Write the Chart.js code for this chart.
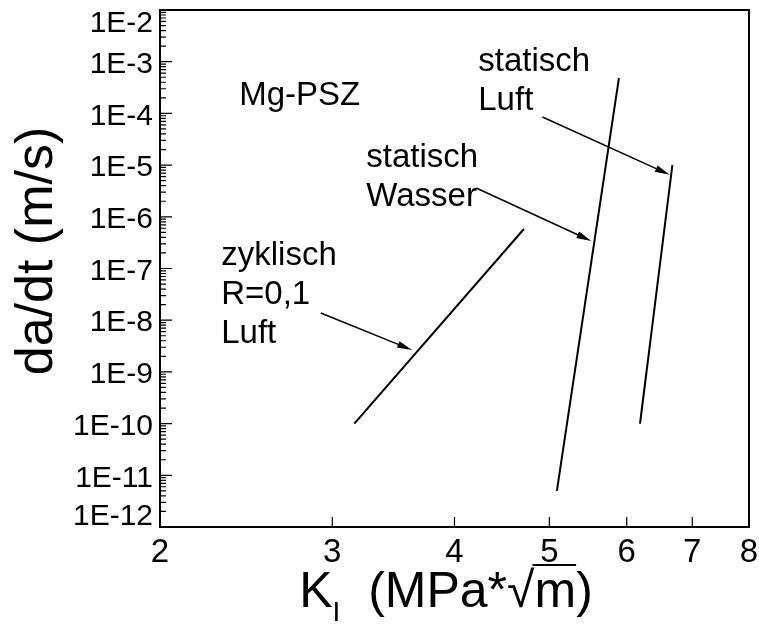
<!DOCTYPE html>
<html>
<head>
<meta charset="utf-8">
<script src="https://cdn.jsdelivr.net/npm/chart.js@4.4.1/dist/chart.umd.min.js"></script>
<style>
  html, body { margin: 0; padding: 0; background: #fff; }
  #wrap { width: 759px; height: 625px; }
</style>
</head>
<body>
<div id="wrap"><canvas id="chart" width="759" height="625"></canvas></div>
<script>
// axis ticks
const xTicks = [2, 3, 4, 5, 6, 7, 8];
const yDecades = [-12, -11, -10, -9, -8, -7, -6, -5, -4, -3, -2];

// curves: K_I (MPa*sqrt m) vs da/dt (m/s)
const zyklischK = [3.16, 4.71];
const zyklischV = [1e-10, 5.8e-7];
const wasserK = [5.09, 5.89];
const wasserV = [5e-12, 4.8e-4];
const luftK = [6.19, 6.68];
const luftV = [1e-10, 1e-5];

// arrows (from label to curve), data coords
const arrowFromK = [2.92, 4.21, 4.92];
const arrowFromV = [1.38e-8, 3.6e-6, 8.5e-5];
const arrowToK = [3.62, 5.52, 6.64];
const arrowToV = [2.65e-9, 3.4e-7, 6.5e-6];

// text notes, first baseline anchored at data coords
const noteText = [['Mg-PSZ'], ['statisch', 'Luft'], ['statisch', 'Wasser'], ['zyklisch', 'R=0,1', 'Luft']];
const noteK = [2.41, 4.23, 3.25, 2.31];
const noteV = [1.45e-4, 6.6e-4, 9.2e-6, 1.17e-7];

const FONT = '"Liberation Sans", Arial, Helvetica, sans-serif';

function pts(ks, vs) {
  return ks.map((k, i) => ({ x: k, y: vs[i] }));
}

const lineStyle = { showLine: true, pointRadius: 0, borderColor: '#000', borderWidth: 2, fill: false };

const extras = {
  id: 'extras',
  afterDatasetsDraw(chart) {
    const ctx = chart.ctx;
    const xs = chart.scales.x, ys = chart.scales.y;
    ctx.save();
    // arrows
    ctx.strokeStyle = '#000';
    ctx.fillStyle = '#000';
    ctx.lineWidth = 1.5;
    arrowFromK.forEach((k, i) => {
      const x1 = xs.getPixelForValue(k), y1 = ys.getPixelForValue(arrowFromV[i]);
      const x2 = xs.getPixelForValue(arrowToK[i]), y2 = ys.getPixelForValue(arrowToV[i]);
      const a = Math.atan2(y2 - y1, x2 - x1);
      const len = 15, hw = 3.5;
      ctx.beginPath();
      ctx.moveTo(x1, y1);
      ctx.lineTo(x2 - len * Math.cos(a), y2 - len * Math.sin(a));
      ctx.stroke();
      ctx.beginPath();
      ctx.moveTo(x2, y2);
      ctx.lineTo(x2 - len * Math.cos(a) + hw * Math.sin(a), y2 - len * Math.sin(a) - hw * Math.cos(a));
      ctx.lineTo(x2 - len * Math.cos(a) - hw * Math.sin(a), y2 - len * Math.sin(a) + hw * Math.cos(a));
      ctx.closePath();
      ctx.fill();
    });
    // notes
    ctx.font = '33px ' + FONT;
    ctx.textAlign = 'left';
    ctx.textBaseline = 'alphabetic';
    noteText.forEach((lines, i) => {
      const x = xs.getPixelForValue(noteK[i]), y = ys.getPixelForValue(noteV[i]);
      lines.forEach((t, j) => ctx.fillText(t, x, y + j * 39));
    });
    ctx.restore();
  },
  afterDraw(chart) {
    const ctx = chart.ctx;
    const a = chart.chartArea;
    const xs = chart.scales.x, ys = chart.scales.y;
    ctx.save();
    ctx.strokeStyle = '#000';
    ctx.lineWidth = 2;
    ctx.strokeRect(a.left, a.top, a.right - a.left, a.bottom - a.top);
    // inward ticks on left and bottom axes
    ctx.lineWidth = 1.2;
    ctx.beginPath();
    yDecades.forEach(d => {
      const yp = ys.getPixelForValue(Math.pow(10, d));
      ctx.moveTo(a.left, yp); ctx.lineTo(a.left + 12, yp);
      if (d < -2) {
        for (let m = 2; m <= 9; m++) {
          const ym = ys.getPixelForValue(m * Math.pow(10, d));
          ctx.moveTo(a.left, ym); ctx.lineTo(a.left + 6, ym);
        }
      }
    });
    xTicks.slice(1, -1).forEach(v => {
      const xp = xs.getPixelForValue(v);
      ctx.moveTo(xp, a.bottom); ctx.lineTo(xp, a.bottom - 10);
    });
    ctx.stroke();
    // tick labels
    ctx.fillStyle = '#000';
    ctx.font = '30px ' + FONT;
    ctx.textAlign = 'right';
    ctx.textBaseline = 'middle';
    yDecades.forEach(d => {
      let yp = ys.getPixelForValue(Math.pow(10, d)) + 3;
      yp = Math.min(Math.max(yp, a.top + 14), a.bottom - 10);
      ctx.fillText('1E' + d, a.left - 7, yp);
    });
    ctx.font = '33px ' + FONT;
    ctx.textAlign = 'center';
    xTicks.forEach(v => {
      ctx.fillText(String(v), xs.getPixelForValue(v), a.bottom + 26);
    });
    // y title
    ctx.save();
    ctx.translate(52, 251);
    ctx.rotate(-Math.PI / 2);
    ctx.font = '52px ' + FONT;
    ctx.textAlign = 'center';
    ctx.textBaseline = 'alphabetic';
    ctx.fillText('da/dt (m/s)', 0, 0);
    ctx.restore();
    // x title: K_I (MPa*sqrt(m))
    const big = '50px ' + FONT, small = '28px ' + FONT;
    const base = 607;
    ctx.textAlign = 'left';
    ctx.textBaseline = 'alphabetic';
    const parts = [
      { t: 'K', f: big, dy: 0 },
      { t: 'I', f: small, dy: 14 },
      { t: '  (MPa*', f: big, dy: 0 },
      { t: '\u221A', f: big, dy: 0 },
      { t: 'm', f: big, dy: 0, over: true },
      { t: ')', f: big, dy: 0 }
    ];
    let w = 0;
    parts.forEach(p => { ctx.font = p.f; p.w = ctx.measureText(p.t).width; w += p.w; });
    let x = 446 - w / 2;
    parts.forEach(p => {
      ctx.font = p.f;
      ctx.fillText(p.t, x, base + p.dy);
      if (p.over) {
        ctx.lineWidth = 2;
        ctx.beginPath();
        ctx.moveTo(x - 2, base - 42); ctx.lineTo(x + p.w, base - 42);
        ctx.stroke();
      }
      x += p.w;
    });
    ctx.restore();
  }
};

new Chart(document.getElementById('chart'), {
  type: 'scatter',
  data: {
    datasets: [
      Object.assign({ label: 'zyklisch R=0,1 Luft', data: pts(zyklischK, zyklischV) }, lineStyle),
      Object.assign({ label: 'statisch Wasser', data: pts(wasserK, wasserV) }, lineStyle),
      Object.assign({ label: 'statisch Luft', data: pts(luftK, luftV) }, lineStyle)
    ]
  },
  plugins: [extras],
  options: {
    responsive: false,
    animation: false,
    layout: { padding: { left: 0, top: 10, right: 10, bottom: 0 } },
    plugins: { legend: { display: false }, tooltip: { enabled: false } },
    scales: {
      x: {
        type: 'logarithmic', min: 2, max: 8,
        afterBuildTicks: s => { s.ticks = xTicks.map(v => ({ value: v })); },
        afterFit: s => { s.height = 98; },
        grid: { display: false, drawTicks: false },
        border: { display: false },
        ticks: { display: false }
      },
      y: {
        type: 'logarithmic', min: 1e-12, max: 1e-2,
        afterBuildTicks: s => { s.ticks = yDecades.map(d => ({ value: Math.pow(10, d) })); },
        afterFit: s => { s.width = 160; },
        grid: { display: false, drawTicks: false },
        border: { display: false },
        ticks: { display: false }
      }
    }
  }
});
</script>
</body>
</html>
